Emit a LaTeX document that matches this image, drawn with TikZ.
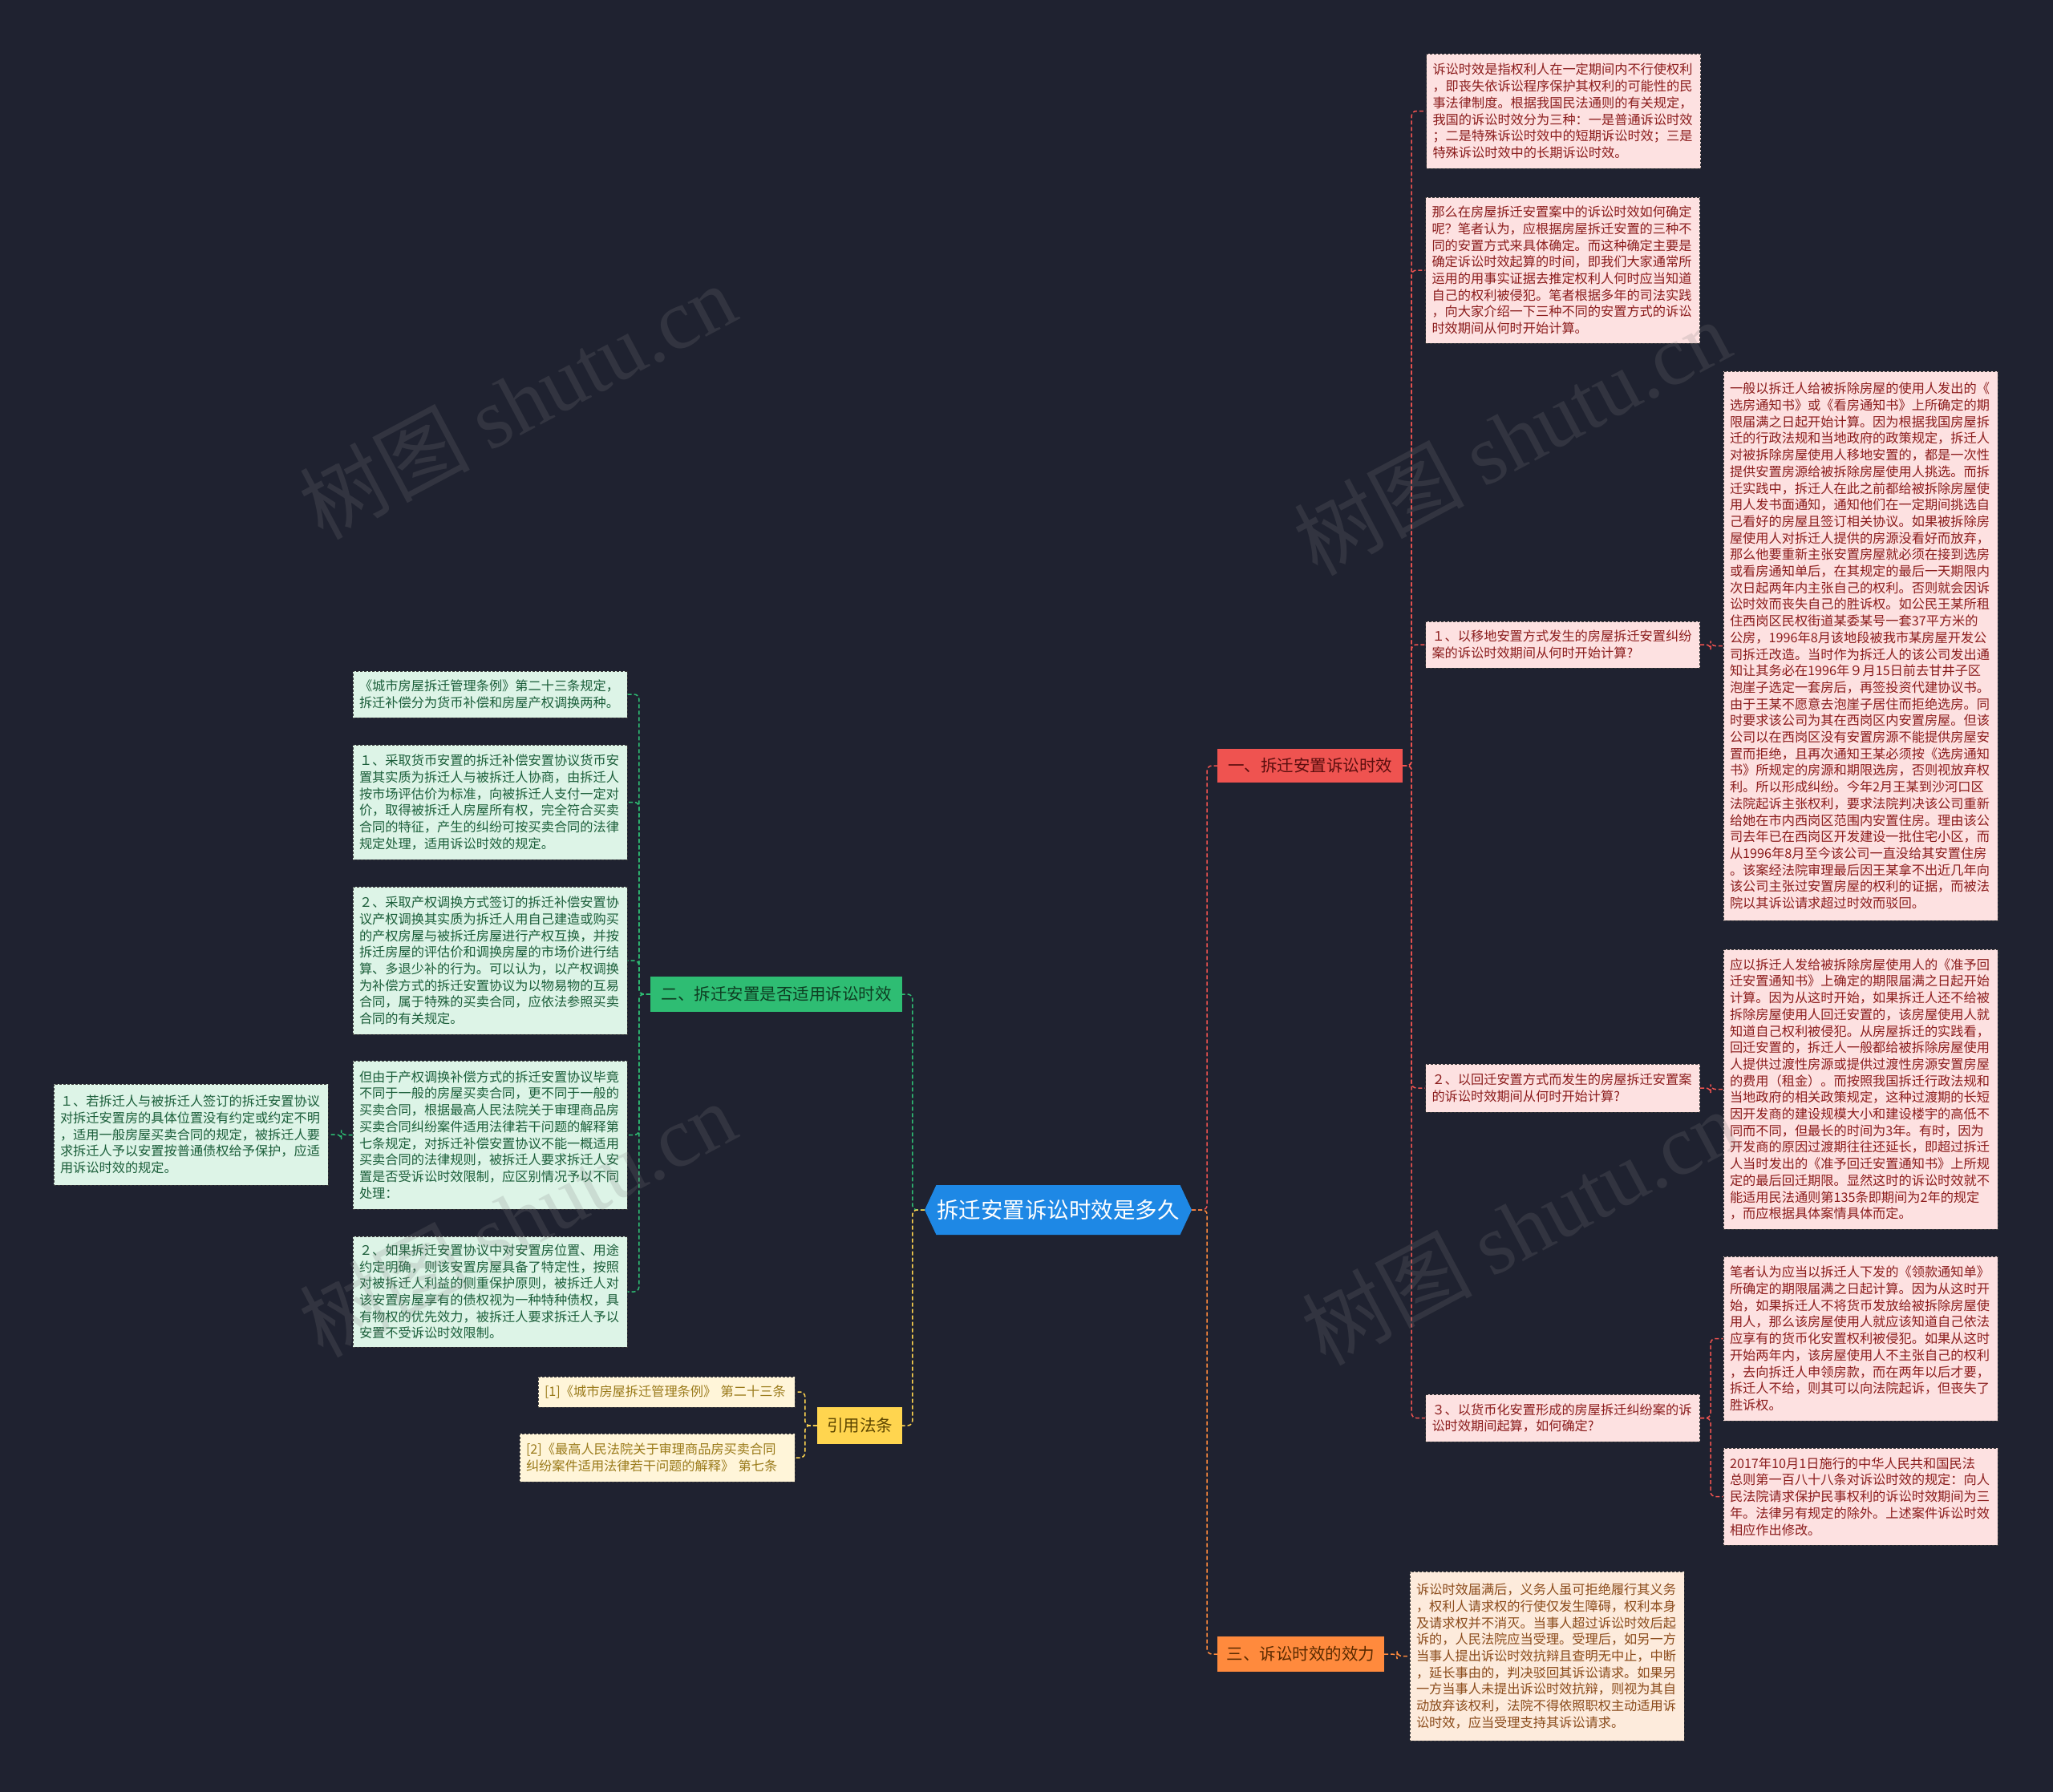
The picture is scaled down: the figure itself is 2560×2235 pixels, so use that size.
\documentclass[tikz,border=0pt]{standalone}
\usepackage{fontspec}
\setmainfont{Noto Sans CJK SC}
\newfontfamily\wmlatin{Liberation Serif}
\usetikzlibrary{shapes.symbols}
\definecolor{bgc}{HTML}{1F2230}
\definecolor{redc}{HTML}{EF5350}
\definecolor{redl}{HTML}{FDE1E1}
\definecolor{redt}{HTML}{8B1C1C}
\definecolor{redd}{HTML}{5A0E0E}
\definecolor{greenc}{HTML}{2EBD73}
\definecolor{greenl}{HTML}{DDF4E7}
\definecolor{greent}{HTML}{1B5E3A}
\definecolor{greend}{HTML}{0E3D22}
\definecolor{yellowc}{HTML}{FFD54F}
\definecolor{yellowl}{HTML}{FFF5D9}
\definecolor{yellowt}{HTML}{9A7A1A}
\definecolor{yellowd}{HTML}{5C4500}
\definecolor{orangec}{HTML}{FF8A3D}
\definecolor{orangel}{HTML}{FDEBDC}
\definecolor{oranget}{HTML}{8A4A1A}
\definecolor{oranged}{HTML}{5A2A00}
\definecolor{bluec}{HTML}{1E88E5}
\definecolor{boxline}{HTML}{3A3A3A}
\tikzset{
  leaf/.style={draw=boxline, line width=1pt, dash pattern=on 3pt off 2pt,
    inner xsep=8pt, inner ysep=0pt, text width=326pt, align=left,
    font=\fontsize{16.2}{20.7}\selectfont, minimum width=342pt},
  pinkbox/.style={leaf, fill=redl, text=redt},
  greenbox/.style={leaf, fill=greenl, text=greent},
  yellowbox/.style={leaf, fill=yellowl, text=yellowt},
  orangebox/.style={leaf, fill=orangel, text=oranget},
  topnode/.style={inner sep=0pt, font=\fontsize{20.5}{24}\selectfont},
  conn/.style={line width=1.5pt, dash pattern=on 5pt off 3pt, rounded corners=6pt},
  wm/.style={rotate=28, text=gray, opacity=0.2, font=\fontsize{106}{106}\selectfont}
}
\begin{document}
\begin{tikzpicture}[x=1pt,y=-1pt]
\fill[bgc] (0,0) rectangle (2560,2235);
\useasboundingbox (0,0) rectangle (2560,2235);

% central
\node[signal, signal to=east and west, signal pointer angle=130, fill=bluec,
  minimum width=333pt, minimum height=62pt, inner sep=0pt, text=white,
  font=\fontsize{27.5}{30}\selectfont] (c) at (1319.5,1509) {拆迁安置诉讼时效是多久};

% branches
\node[topnode, fill=redc, text=redd, minimum width=231pt, minimum height=42pt] (b1) at (1633.5,955) {一、拆迁安置诉讼时效};
\node[topnode, fill=greenc, text=greend, minimum width=314pt, minimum height=44pt] (b2) at (968,1240) {二、拆迁安置是否适用诉讼时效};
\node[topnode, fill=yellowc, text=yellowd, minimum width=106pt, minimum height=46pt] (b3) at (1072,1778) {引用法条};
\node[topnode, fill=orangec, text=oranged, minimum width=208pt, minimum height=44pt] (b4) at (1622,2063) {三、诉讼时效的效力};

% right children
\node[pinkbox, minimum height=143pt] (r1) at (1949.5,138.5) {诉讼时效是指权利人在一定期间内不行使权利\\，即丧失依诉讼程序保护其权利的可能性的民\\事法律制度。根据我国民法通则的有关规定，\\我国的诉讼时效分为三种：一是普通诉讼时效\\；二是特殊诉讼时效中的短期诉讼时效；三是\\特殊诉讼时效中的长期诉讼时效。};
\node[pinkbox, minimum height=182pt] (r2) at (1948.5,337) {那么在房屋拆迁安置案中的诉讼时效如何确定\\呢？笔者认为，应根据房屋拆迁安置的三种不\\同的安置方式来具体确定。而这种确定主要是\\确定诉讼时效起算的时间，即我们大家通常所\\运用的用事实证据去推定权利人何时应当知道\\自己的权利被侵犯。笔者根据多年的司法实践\\，向大家介绍一下三种不同的安置方式的诉讼\\时效期间从何时开始计算。};
\node[pinkbox, minimum height=58pt] (r3) at (1948.5,804) {１、以移地安置方式发生的房屋拆迁安置纠纷\\案的诉讼时效期间从何时开始计算?};
\node[pinkbox, minimum height=60pt] (r4) at (1948.5,1357) {２、以回迁安置方式而发生的房屋拆迁安置案\\的诉讼时效期间从何时开始计算?};
\node[pinkbox, minimum height=59pt] (r5) at (1948.5,1768.5) {３、以货币化安置形成的房屋拆迁纠纷案的诉\\讼时效期间起算，如何确定?};

\node[pinkbox, minimum height=685pt] (g1) at (2320,805.5) {一般以拆迁人给被拆除房屋的使用人发出的《\\选房通知书》或《看房通知书》上所确定的期\\限届满之日起开始计算。因为根据我国房屋拆\\迁的行政法规和当地政府的政策规定，拆迁人\\对被拆除房屋使用人移地安置的，都是一次性\\提供安置房源给被拆除房屋使用人挑选。而拆\\迁实践中，拆迁人在此之前都给被拆除房屋使\\用人发书面通知，通知他们在一定期间挑选自\\己看好的房屋且签订相关协议。如果被拆除房\\屋使用人对拆迁人提供的房源没看好而放弃，\\那么他要重新主张安置房屋就必须在接到选房\\或看房通知单后，在其规定的最后一天期限内\\次日起两年内主张自己的权利。否则就会因诉\\讼时效而丧失自己的胜诉权。如公民王某所租\\住西岗区民权街道某委某号一套37平方米的\\公房，1996年8月该地段被我市某房屋开发公\\司拆迁改造。当时作为拆迁人的该公司发出通\\知让其务必在1996年９月15日前去甘井子区\\泡崖子选定一套房后，再签投资代建协议书。\\由于王某不愿意去泡崖子居住而拒绝选房。同\\时要求该公司为其在西岗区内安置房屋。但该\\公司以在西岗区没有安置房源不能提供房屋安\\置而拒绝，且再次通知王某必须按《选房通知\\书》所规定的房源和期限选房，否则视放弃权\\利。所以形成纠纷。今年2月王某到沙河口区\\法院起诉主张权利，要求法院判决该公司重新\\给她在市内西岗区范围内安置住房。理由该公\\司去年已在西岗区开发建设一批住宅小区，而\\从1996年8月至今该公司一直没给其安置住房\\。该案经法院审理最后因王某拿不出近几年向\\该公司主张过安置房屋的权利的证据，而被法\\院以其诉讼请求超过时效而驳回。};
\node[pinkbox, minimum height=349pt] (g2) at (2320,1358.5) {应以拆迁人发给被拆除房屋使用人的《准予回\\迁安置通知书》上确定的期限届满之日起开始\\计算。因为从这时开始，如果拆迁人还不给被\\拆除房屋使用人回迁安置的，该房屋使用人就\\知道自己权利被侵犯。从房屋拆迁的实践看，\\回迁安置的，拆迁人一般都给被拆除房屋使用\\人提供过渡性房源或提供过渡性房源安置房屋\\的费用（租金）。而按照我国拆迁行政法规和\\当地政府的相关政策规定，这种过渡期的长短\\因开发商的建设规模大小和建设楼宇的高低不\\同而不同，但最长的时间为3年。有时，因为\\开发商的原因过渡期往往还延长，即超过拆迁\\人当时发出的《准予回迁安置通知书》上所规\\定的最后回迁期限。显然这时的诉讼时效就不\\能适用民法通则第135条即期间为2年的规定\\，而应根据具体案情具体而定。};
\node[pinkbox, minimum height=205pt] (g3) at (2320,1669.5) {笔者认为应当以拆迁人下发的《领款通知单》\\所确定的期限届满之日起计算。因为从这时开\\始，如果拆迁人不将货币发放给被拆除房屋使\\用人，那么该房屋使用人就应该知道自己依法\\应享有的货币化安置权利被侵犯。如果从这时\\开始两年内，该房屋使用人不主张自己的权利\\，去向拆迁人申领房款，而在两年以后才要，\\拆迁人不给，则其可以向法院起诉，但丧失了\\胜诉权。};
\node[pinkbox, minimum height=121pt] (g4) at (2320,1866.5) {2017年10月1日施行的中华人民共和国民法\\总则第一百八十八条对诉讼时效的规定：向人\\民法院请求保护民事权利的诉讼时效期间为三\\年。法律另有规定的除外。上述案件诉讼时效\\相应作出修改。};

% bottom
\node[orangebox, minimum height=211pt] (bb) at (1929,2065.5) {诉讼时效届满后，义务人虽可拒绝履行其义务\\，权利人请求权的行使仅发生障碍，权利本身\\及请求权并不消灭。当事人超过诉讼时效后起\\诉的，人民法院应当受理。受理后，如另一方\\当事人提出诉讼时效抗辩且查明无中止，中断\\，延长事由的，判决驳回其诉讼请求。如果另\\一方当事人未提出诉讼时效抗辩，则视为其自\\动放弃该权利，法院不得依照职权主动适用诉\\讼时效，应当受理支持其诉讼请求。};

% left
\node[greenbox, minimum height=58pt] (l1) at (611,866) {《城市房屋拆迁管理条例》第二十三条规定，\\拆迁补偿分为货币补偿和房屋产权调换两种。};
\node[greenbox, minimum height=143pt] (l2) at (611,1000.5) {１、采取货币安置的拆迁补偿安置协议货币安\\置其实质为拆迁人与被拆迁人协商，由拆迁人\\按市场评估价为标准，向被拆迁人支付一定对\\价，取得被拆迁人房屋所有权，完全符合买卖\\合同的特征，产生的纠纷可按买卖合同的法律\\规定处理，适用诉讼时效的规定。};
\node[greenbox, minimum height=184pt] (l3) at (611,1198) {２、采取产权调换方式签订的拆迁补偿安置协\\议产权调换其实质为拆迁人用自己建造或购买\\的产权房屋与被拆迁房屋进行产权互换，并按\\拆迁房屋的评估价和调换房屋的市场价进行结\\算、多退少补的行为。可以认为，以产权调换\\为补偿方式的拆迁安置协议为以物易物的互易\\合同，属于特殊的买卖合同，应依法参照买卖\\合同的有关规定。};
\node[greenbox, minimum height=185pt] (l4) at (611,1415.5) {但由于产权调换补偿方式的拆迁安置协议毕竟\\不同于一般的房屋买卖合同，更不同于一般的\\买卖合同，根据最高人民法院关于审理商品房\\买卖合同纠纷案件适用法律若干问题的解释第\\七条规定，对拆迁补偿安置协议不能一概适用\\买卖合同的法律规则，被拆迁人要求拆迁人安\\置是否受诉讼时效限制，应区别情况予以不同\\处理：};
\node[greenbox, minimum height=138pt] (l5) at (611,1611) {２、如果拆迁安置协议中对安置房位置、用途\\约定明确，则该安置房屋具备了特定性，按照\\对被拆迁人利益的侧重保护原则，被拆迁人对\\该安置房屋享有的债权视为一种特种债权，具\\有物权的优先效力，被拆迁人要求拆迁人予以\\安置不受诉讼时效限制。};
\node[greenbox, minimum height=126pt] (ll) at (238,1415) {１、若拆迁人与被拆迁人签订的拆迁安置协议\\对拆迁安置房的具体位置没有约定或约定不明\\，适用一般房屋买卖合同的规定，被拆迁人要\\求拆迁人予以安置按普通债权给予保护，应适\\用诉讼时效的规定。};

% citations
\node[yellowbox, text width=304pt, minimum width=320pt, minimum height=38pt] (c1) at (831,1736) {[1]《城市房屋拆迁管理条例》 第二十三条};
\node[yellowbox, text width=327pt, minimum width=343pt, minimum height=60pt] (c2) at (819.5,1818) {[2]《最高人民法院关于审理商品房买卖合同\\纠纷案件适用法律若干问题的解释》 第七条};

% connectors from center
\draw[conn, redc] (c.east) -- ++(19,0) |- (b1.west);
\draw[conn, orangec] (c.east) -- ++(19,0) |- (b4.west);
\draw[conn, greenc] (c.west) -- ++(-15,0) |- (b2.east);
\draw[conn, yellowc] (c.west) -- ++(-15,0) |- (b3.east);

% branch 1
\foreach \n in {r1,r2,r3,r4,r5}{
  \draw[conn, redc] (b1.east) -- ++(11,0) |- (\n.west);
}
\draw[conn, redc] (r3.east) -- ++(13,0) |- (g1.west);
\draw[conn, redc] (r4.east) -- ++(13,0) |- (g2.west);
\draw[conn, redc] (r5.east) -- ++(13,0) |- (g3.west);
\draw[conn, redc] (r5.east) -- ++(13,0) |- (g4.west);

% branch 2
\foreach \n in {l1,l2,l3,l4,l5}{
  \draw[conn, greenc] (b2.west) -- ++(-14,0) |- (\n.east);
}
\draw[conn, greenc] (l4.west) -- ++(-14,0) |- (ll.east);

% branch 3
\draw[conn, yellowc] (b3.west) -- ++(-15,0) |- (c1.east);
\draw[conn, yellowc] (b3.west) -- ++(-15,0) |- (c2.east);

% branch 4
\draw[conn, orangec] (b4.east) -- ++(16,0) |- (bb.west);

% watermarks
\node[wm] (w1) at (645,500) {树图 {\wmlatin shutu.cn}};
\node[wm] (w2) at (1885,545) {树图 {\wmlatin shutu.cn}};
\node[wm] (w3) at (645,1520) {树图 {\wmlatin shutu.cn}};
\node[wm] (w4) at (1895,1530) {树图 {\wmlatin shutu.cn}};
\end{tikzpicture}
\end{document}
